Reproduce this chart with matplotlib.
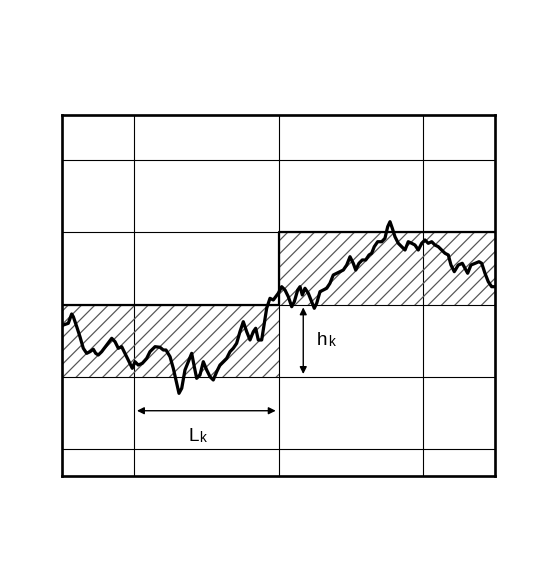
import matplotlib
matplotlib.use("Agg")
import matplotlib.pyplot as plt

plt.rcParams['font.family'] = ['Liberation Sans', 'DejaVu Sans']
plt.rcParams['hatch.color'] = '#555555'
plt.rcParams['hatch.linewidth'] = 1.1

# Step segments (start, end, upper level, lower level)
seg_start = [0.0, 3.0]
seg_end = [3.0, 6.0]
seg_upper = [2.0, 3.0]
seg_lower = [1.0, 2.0]

# Noisy signal
t = [0.0, 0.018, 0.087, 0.134, 0.157, 0.204, 0.249, 0.295, 0.342, 0.388, 0.434, 0.467, 0.503,
     0.550, 0.619, 0.689, 0.735, 0.780, 0.827, 0.883, 0.928, 0.974, 1.011, 1.057, 1.113,
     1.174, 1.219, 1.289, 1.358, 1.404, 1.441, 1.497, 1.542, 1.589, 1.621, 1.659, 1.704,
     1.760, 1.797, 1.833, 1.866, 1.912, 1.958, 2.005, 2.051, 2.096, 2.144, 2.189, 2.235,
     2.282, 2.328, 2.373, 2.420, 2.466, 2.512, 2.559, 2.605, 2.651, 2.684, 2.720, 2.767,
     2.803, 2.836, 2.882, 2.928, 2.997, 3.044, 3.090, 3.136, 3.183, 3.219, 3.266, 3.298,
     3.330, 3.367, 3.413, 3.460, 3.496, 3.529, 3.575, 3.621, 3.668, 3.713, 3.759, 3.806,
     3.852, 3.898, 3.945, 3.991, 4.036, 4.070, 4.115, 4.161, 4.208, 4.254, 4.291, 4.327,
     4.374, 4.430, 4.475, 4.513, 4.545, 4.577, 4.614, 4.660, 4.707, 4.753, 4.798, 4.846,
     4.891, 4.937, 4.984, 5.030, 5.075, 5.123, 5.168, 5.214, 5.261, 5.307, 5.353, 5.390,
     5.436, 5.491, 5.547, 5.584, 5.621, 5.667, 5.723, 5.778, 5.816, 5.861, 5.907, 5.954, 6.0]
signal = [1.70, 1.717, 1.741, 1.870, 1.832, 1.694, 1.555, 1.395, 1.325, 1.348, 1.381, 1.325, 1.302,
          1.348, 1.440, 1.533, 1.486, 1.395, 1.417, 1.302, 1.209, 1.118, 1.209, 1.163, 1.187,
          1.256, 1.348, 1.417, 1.409, 1.371, 1.371, 1.278, 1.118, 0.910, 0.771, 0.841, 1.094,
          1.233, 1.325, 1.140, 0.979, 1.025, 1.209, 1.094, 1.001, 0.956, 1.071, 1.163, 1.209,
          1.256, 1.348, 1.395, 1.464, 1.625, 1.763, 1.625, 1.510, 1.625, 1.672, 1.510, 1.510,
          1.741, 1.949, 2.087, 2.064, 2.157, 2.248, 2.202, 2.109, 1.971, 2.040, 2.202, 2.248,
          2.133, 2.226, 2.157, 2.040, 1.949, 2.018, 2.179, 2.202, 2.226, 2.295, 2.410, 2.434,
          2.456, 2.479, 2.548, 2.663, 2.572, 2.479, 2.572, 2.618, 2.618, 2.687, 2.711, 2.802,
          2.871, 2.871, 2.918, 3.079, 3.148, 3.057, 2.940, 2.849, 2.802, 2.756, 2.871, 2.849,
          2.825, 2.756, 2.849, 2.895, 2.849, 2.871, 2.825, 2.802, 2.756, 2.711, 2.687, 2.548,
          2.456, 2.548, 2.572, 2.503, 2.434, 2.548, 2.572, 2.594, 2.572, 2.434, 2.317, 2.248, 2.248]

# Grid positions
grid_x = [1, 3, 5]
grid_y = [0, 1, 2, 3, 4]

# Annotation values
L_span = (1.0, 3.0)
L_level = 0.53
h_pos = 3.343
h_span = (2.0, 1.0)

DPI = 80
fig = plt.figure(figsize=(545 / DPI, 584 / DPI), dpi=DPI)
ax = fig.add_axes([62/545, (584-476)/584, 433/545, 361/584])
ax.set_xlim(0, 6)
ax.set_ylim(-0.374, 4.626)

ax.set_xticks(grid_x)
ax.set_yticks(grid_y)
ax.tick_params(length=0, labelbottom=False, labelleft=False)
ax.grid(True, color='black', lw=1.0)
ax.set_axisbelow(True)
for s in ax.spines.values():
    s.set_linewidth(2.4)
    s.set_color('black')

# hatched bands
for x0, x1, up, lo in zip(seg_start, seg_end, seg_upper, seg_lower):
    ax.fill_between([x0, x1], [lo, lo], [up, up], facecolor='none',
                    edgecolor='#555555', hatch='//', linewidth=0, zorder=1)

# step line
step_x = []
step_y = []
for x0, x1, up in zip(seg_start, seg_end, seg_upper):
    step_x += [x0, x1]
    step_y += [up, up]
ax.plot(step_x, step_y, color='black', lw=2.0, zorder=3)

# signal
ax.plot(t, signal, color='black', lw=2.9, zorder=4, solid_joinstyle='round')

FS = 17


def sub_label(x, y, main, sub):
    ax.text(x, y, main, fontsize=FS, ha='left', va='baseline')
    ax.annotate(sub, xy=(x, y), xytext=(0.60 * FS, -1.2), textcoords='offset points',
                fontsize=FS * 0.72, ha='left', va='baseline')


# L_k arrow
ax.annotate('', xy=(L_span[1], L_level), xytext=(L_span[0], L_level),
            arrowprops=dict(arrowstyle='<|-|>', color='black', lw=1.25,
                            mutation_scale=13, shrinkA=2.5, shrinkB=2.5), zorder=5)
sub_label(1.75, 0.11, 'L', 'k')

# h_k arrow
ax.annotate('', xy=(h_pos, h_span[1]), xytext=(h_pos, h_span[0]),
            arrowprops=dict(arrowstyle='<|-|>', color='black', lw=1.25,
                            mutation_scale=13, shrinkA=2.5, shrinkB=2.5), zorder=5)
sub_label(3.53, 1.44, 'h', 'k')

fig.savefig('out.png', dpi=DPI)
